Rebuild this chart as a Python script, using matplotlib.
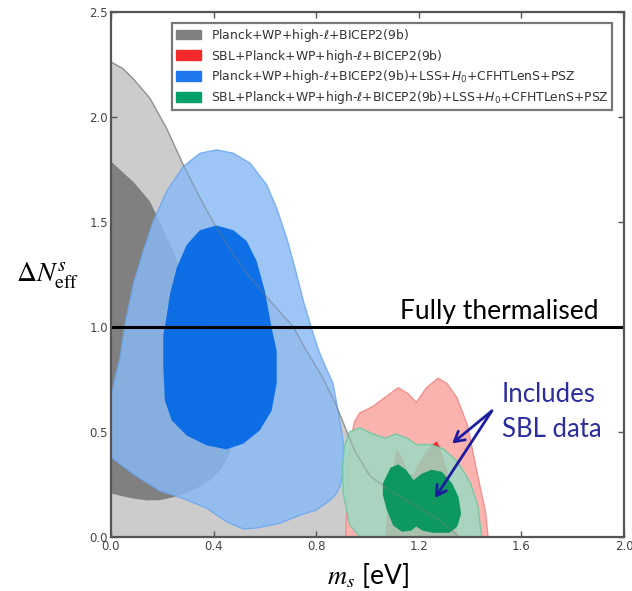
import matplotlib
matplotlib.use("Agg")
import matplotlib.pyplot as plt
from matplotlib.patches import Polygon, Patch

# ---------------- data (contour boundaries) ----------------
gray2_m = [0.0, 0.0, 0.045, 0.087, 0.152, 0.217, 0.282, 0.347, 0.412, 0.48, 0.542, 0.63, 0.711, 0.76, 0.82,
           0.87, 0.91, 0.95, 1.01, 1.10, 1.20, 1.28, 1.36]
gray2_n = [0.0, 2.26, 2.23, 2.18, 2.087, 1.944, 1.77, 1.613, 1.47, 1.34, 1.234, 1.11, 1.0, 0.89, 0.77,
           0.65, 0.53, 0.41, 0.29, 0.21, 0.14, 0.08, 0.0]

gray1_m = [0.0, 0.087, 0.152, 0.19, 0.243, 0.295, 0.347, 0.386, 0.42, 0.45, 0.47, 0.477, 0.468, 0.45, 0.42,
           0.386, 0.34, 0.295, 0.24, 0.19, 0.14, 0.087, 0.04, 0.0]
gray1_n = [1.787, 1.69, 1.597, 1.50, 1.36, 1.20, 1.044, 0.90, 0.77, 0.65, 0.56, 0.49, 0.42, 0.365, 0.31,
           0.27, 0.235, 0.208, 0.188, 0.175, 0.174, 0.183, 0.195, 0.208]

blue2_m = [0.0, 0.015, 0.035, 0.055, 0.087, 0.126, 0.165, 0.217, 0.282, 0.347, 0.412, 0.477, 0.542, 0.607,
           0.646, 0.685, 0.717, 0.75, 0.78, 0.81, 0.84, 0.866, 0.885, 0.905, 0.906, 0.903, 0.893, 0.875,
           0.854, 0.80, 0.737, 0.66, 0.568, 0.516, 0.45, 0.373, 0.282, 0.19, 0.087, 0.0]
blue2_n = [0.665, 0.75, 0.85, 1.013, 1.202, 1.36, 1.502, 1.645, 1.763, 1.826, 1.842, 1.826, 1.779, 1.676,
           1.565, 1.423, 1.281, 1.123, 1.0, 0.886, 0.80, 0.73, 0.60, 0.46, 0.38, 0.30, 0.24, 0.20,
           0.175, 0.128, 0.104, 0.066, 0.043, 0.038, 0.073, 0.137, 0.183, 0.22, 0.30, 0.38]

blue1_m = [0.412, 0.477, 0.529, 0.568, 0.60, 0.626, 0.646, 0.646, 0.626, 0.58, 0.516, 0.45, 0.373, 0.295,
           0.237, 0.21, 0.204, 0.204, 0.21, 0.23, 0.256, 0.295, 0.347]
blue1_n = [1.482, 1.46, 1.408, 1.313, 1.17, 0.997, 0.886, 0.73, 0.60, 0.507, 0.444, 0.417, 0.436, 0.483,
           0.555, 0.65, 0.807, 0.965, 0.997, 1.155, 1.28, 1.39, 1.46]

red2_m = [0.915, 0.92, 0.925, 0.935, 0.95, 0.97, 1.02, 1.075, 1.12, 1.16, 1.19, 1.23, 1.275, 1.31, 1.35,
          1.39, 1.43, 1.46, 1.47]
red2_n = [0.0, 0.15, 0.34, 0.47, 0.55, 0.59, 0.62, 0.67, 0.71, 0.68, 0.64, 0.71, 0.755, 0.73, 0.66,
          0.53, 0.29, 0.12, 0.0]

red1_m = [1.07, 1.075, 1.09, 1.11, 1.12, 1.14, 1.16, 1.18, 1.20, 1.235, 1.26, 1.27, 1.285, 1.31, 1.33, 1.35]
red1_n = [0.0, 0.10, 0.27, 0.40, 0.41, 0.365, 0.30, 0.30, 0.35, 0.42, 0.445, 0.455, 0.42, 0.32, 0.19, 0.0]

green2_m = [0.97, 0.93, 0.905, 0.903, 0.91, 0.93, 0.97, 1.02, 1.07, 1.11, 1.155, 1.19, 1.245, 1.295, 1.35,
            1.40, 1.43, 1.445]
green2_n = [0.0, 0.06, 0.21, 0.34, 0.43, 0.50, 0.52, 0.49, 0.47, 0.49, 0.47, 0.44, 0.44, 0.42, 0.36,
            0.26, 0.15, 0.0]

green1_m = [1.06, 1.06, 1.09, 1.12, 1.15, 1.18, 1.21, 1.25, 1.29, 1.33, 1.355, 1.365, 1.35, 1.32, 1.255,
            1.215, 1.19, 1.17, 1.135, 1.10, 1.075]
green1_n = [0.20, 0.255, 0.33, 0.345, 0.32, 0.27, 0.30, 0.32, 0.31, 0.255, 0.19, 0.11, 0.05, 0.02, 0.02,
            0.03, 0.05, 0.03, 0.025, 0.055, 0.13]

thermal_level = 1.0

legend_labels = [
    r"Planck+WP+high-$\ell$+BICEP2(9b)",
    r"SBL+Planck+WP+high-$\ell$+BICEP2(9b)",
    r"Planck+WP+high-$\ell$+BICEP2(9b)+LSS+$H_0$+CFHTLenS+PSZ",
    r"SBL+Planck+WP+high-$\ell$+BICEP2(9b)+LSS+$H_0$+CFHTLenS+PSZ",
]
legend_colors = ["#808080", "#F42A2A", "#1F78F0", "#00A06A"]

x_ticks = [0.0, 0.4, 0.8, 1.2, 1.6, 2.0]
y_ticks = [0.0, 0.5, 1.0, 1.5, 2.0, 2.5]

# ---------------- figure ----------------
plt.rcParams['mathtext.fontset'] = 'stix'
fig = plt.figure(figsize=(6.32, 5.91), dpi=100)
ax = fig.add_axes([0.1756, 0.0914, 0.8117, 0.889])


def poly(ms, ns, **kw):
    p = Polygon(list(zip(ms, ns)), closed=True, joinstyle="round", **kw)
    ax.add_patch(p)
    return p


poly(gray2_m, gray2_n, facecolor="#CCCCCC", edgecolor="#A8A8A8", lw=1.0, zorder=1)
poly(gray1_m, gray1_n, facecolor="#808080", edgecolor="none", zorder=2)
poly(blue2_m, blue2_n, facecolor="#88BAF6", edgecolor="#6AA6F0", lw=1.0, alpha=0.82, zorder=3)
poly(blue1_m, blue1_n, facecolor="#0066E5", edgecolor="none", alpha=0.9, zorder=4)
poly(red2_m, red2_n, facecolor="#FAB3AF", edgecolor="#F29090", lw=1.0, zorder=5)
poly(red1_m, red1_n, facecolor="#F42A2A", edgecolor="none", zorder=6)
poly(green2_m, green2_n, facecolor="#9DDAC2", edgecolor="#6CC8A2", lw=1.0, alpha=0.86, zorder=7)
poly(green1_m, green1_n, facecolor="#00955A", edgecolor="none", alpha=0.93, zorder=8)
# gray outer boundary visible through everything
ax.plot(gray2_m[1:], gray2_n[1:], color="#7A7A7A", lw=0.9, alpha=0.45, zorder=9)

ax.axhline(thermal_level, color="black", lw=2.2, zorder=10)

ax.set_xlim(0, 2.0)
ax.set_ylim(0, 2.5)
ax.set_xticks(x_ticks)
ax.set_yticks(y_ticks)
ax.set_xticklabels([f"{t:.1f}" for t in x_ticks])
ax.set_yticklabels([f"{t:.1f}" for t in y_ticks])
ax.tick_params(direction="in", length=4, width=1, colors="#555555", labelcolor="#444444",
               labelsize=8.5, top=True, right=True, pad=2)
for s in ax.spines.values():
    s.set_color("#555555")
    s.set_linewidth(1.6)
    s.set_zorder(12)

# labels
ax.text(1.899, 1.038, "Fully thermalised", ha="right", va="baseline", fontsize=19,
        family="Lato", color="black", zorder=11)
ax.text(1.524, 0.64, "Includes", ha="left", va="baseline", fontsize=18.5,
        family="Lato", color="#2B2D9E", zorder=11)
ax.text(1.524, 0.474, "SBL data", ha="left", va="baseline", fontsize=18.5,
        family="Lato", color="#2B2D9E", zorder=11)

arrow_kw = dict(arrowstyle="->,head_length=0.7,head_width=0.4", color="#1C1CA0", lw=2.0,
                shrinkA=0, shrinkB=0)
ax.annotate("", xy=(1.33, 0.445), xytext=(1.485, 0.60), arrowprops=arrow_kw, zorder=11)
ax.annotate("", xy=(1.263, 0.185), xytext=(1.485, 0.60), arrowprops=arrow_kw, zorder=11)

fig.text(0.075, 0.523, r"$\Delta N_{\rm eff}^{s}$", fontsize=20, ha="center", va="baseline")
fig.text(0.582, 0.012, r"$m_s$ [eV]", fontsize=19, ha="center", va="baseline", family="Lato")

handles = [Patch(facecolor=c, edgecolor=c) for c in legend_colors]
leg = ax.legend(handles, legend_labels, loc="upper right", bbox_to_anchor=(0.977, 0.978),
                fontsize=8.9, frameon=True, fancybox=False, handlelength=2.0, handleheight=0.85,
                labelspacing=0.3, borderpad=0.3, handletextpad=0.8, borderaxespad=0)
leg.get_frame().set_edgecolor("#555555")
leg.get_frame().set_linewidth(1.6)
leg.set_zorder(20)
for t in leg.get_texts():
    t.set_math_fontfamily("dejavusans")
    t.set_color("#333333")

fig.savefig("out.png", dpi=100)
